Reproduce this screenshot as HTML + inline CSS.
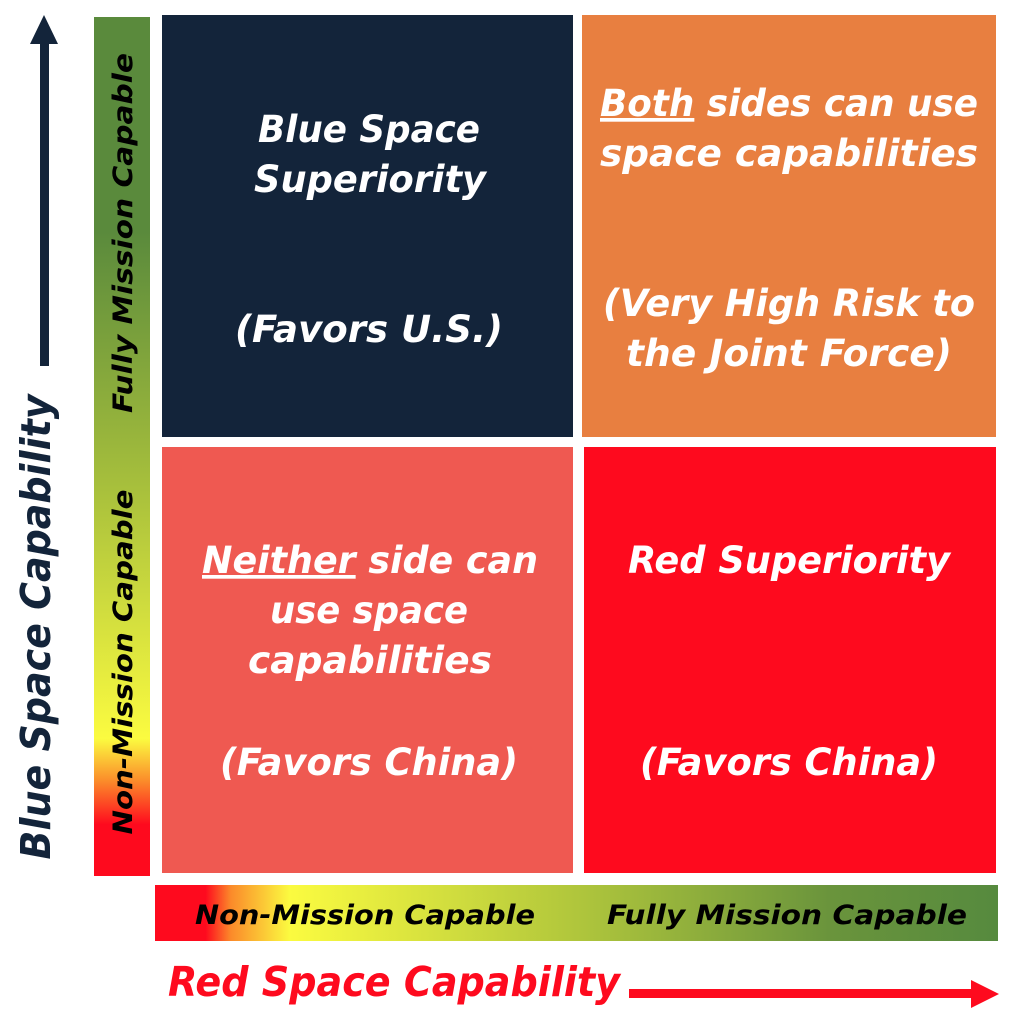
<!DOCTYPE html>
<html><head><meta charset="utf-8"><style>
html,body{margin:0;padding:0;background:#fff;}
svg text{font-family:"DejaVu Sans","Liberation Sans",sans-serif;font-weight:bold;font-style:italic;}
</style></head><body>
<svg width="1017" height="1024" viewBox="0 0 1017 1024" xmlns="http://www.w3.org/2000/svg">
<defs>
<linearGradient id="vg" x1="0" y1="1" x2="0" y2="0">
<stop offset="0" stop-color="#fe0a1e"/>
<stop offset="0.06" stop-color="#fe0a1e"/>
<stop offset="0.11" stop-color="#fb8a2a"/>
<stop offset="0.16" stop-color="#fbfb40"/>
<stop offset="0.45" stop-color="#a8c03c"/>
<stop offset="0.75" stop-color="#5a8a3c"/>
<stop offset="1" stop-color="#5a8a3c"/>
</linearGradient>
<linearGradient id="hg" x1="0" y1="0" x2="1" y2="0">
<stop offset="0" stop-color="#fe0a1e"/>
<stop offset="0.06" stop-color="#fe0a1e"/>
<stop offset="0.09" stop-color="#fb8a2a"/>
<stop offset="0.16" stop-color="#fbfb40"/>
<stop offset="0.5" stop-color="#b0c63c"/>
<stop offset="0.8" stop-color="#6a943c"/>
<stop offset="1" stop-color="#568a3e"/>
</linearGradient>
</defs>
<rect x="162" y="15" width="411" height="422" fill="#13243a"/>
<rect x="582" y="15" width="414" height="422" fill="#e87f40"/>
<rect x="162" y="447" width="411" height="426" fill="#ef5951"/>
<rect x="584" y="447" width="412" height="426" fill="#fe0a1e"/>
<rect x="94" y="17" width="56" height="859" fill="url(#vg)"/>
<rect x="155" y="885" width="843" height="56" fill="url(#hg)"/>
<rect x="40" y="44" width="9" height="322" fill="#13243a"/>
<polygon points="44,15 30,44 58,44" fill="#13243a"/>
<rect x="629" y="989" width="343" height="9" fill="#fe0a1e"/>
<polygon points="971,980 999,994 971,1008" fill="#fe0a1e"/>
<text x="0" y="0" font-size="41" fill="#13243a" text-anchor="middle" textLength="465" lengthAdjust="spacingAndGlyphs" transform="translate(50,627) rotate(-90)">Blue Space Capability</text>
<text x="394" y="996" font-size="41" fill="#fe0a1e" text-anchor="middle" textLength="452" lengthAdjust="spacingAndGlyphs">Red Space Capability</text>
<text x="0" y="0" font-size="27" fill="#000" text-anchor="middle" textLength="360" lengthAdjust="spacingAndGlyphs" transform="translate(132,233) rotate(-90)">Fully Mission Capable</text>
<text x="0" y="0" font-size="27" fill="#000" text-anchor="middle" textLength="345" lengthAdjust="spacingAndGlyphs" transform="translate(132,662) rotate(-90)">Non-Mission Capable</text>
<text x="365" y="924" font-size="27" fill="#000" text-anchor="middle" textLength="340" lengthAdjust="spacingAndGlyphs">Non-Mission Capable</text>
<text x="787" y="924" font-size="27" fill="#000" text-anchor="middle" textLength="360" lengthAdjust="spacingAndGlyphs">Fully Mission Capable</text>
<g fill="#fff" font-size="37" text-anchor="middle" lengthAdjust="spacingAndGlyphs">
<text x="369" y="142" textLength="222" lengthAdjust="spacingAndGlyphs">Blue Space</text>
<text x="370" y="192" textLength="232" lengthAdjust="spacingAndGlyphs">Superiority</text>
<text x="369" y="342" textLength="268" lengthAdjust="spacingAndGlyphs">(Favors U.S.)</text>
<text x="789" y="116" textLength="378" lengthAdjust="spacingAndGlyphs"><tspan text-decoration="underline">Both</tspan> sides can use</text>
<text x="789" y="166" textLength="378" lengthAdjust="spacingAndGlyphs">space capabilities</text>
<text x="789" y="316" textLength="372" lengthAdjust="spacingAndGlyphs">(Very High Risk to</text>
<text x="789" y="366" textLength="326" lengthAdjust="spacingAndGlyphs">the Joint Force)</text>
<text x="370" y="573" textLength="336" lengthAdjust="spacingAndGlyphs"><tspan text-decoration="underline">Neither</tspan> side can</text>
<text x="369" y="623" textLength="198" lengthAdjust="spacingAndGlyphs">use space</text>
<text x="370" y="673" textLength="244" lengthAdjust="spacingAndGlyphs">capabilities</text>
<text x="369" y="775" textLength="298" lengthAdjust="spacingAndGlyphs">(Favors China)</text>
<text x="789" y="573" textLength="322" lengthAdjust="spacingAndGlyphs">Red Superiority</text>
<text x="789" y="775" textLength="298" lengthAdjust="spacingAndGlyphs">(Favors China)</text>
</g>
</svg>
</body></html>
